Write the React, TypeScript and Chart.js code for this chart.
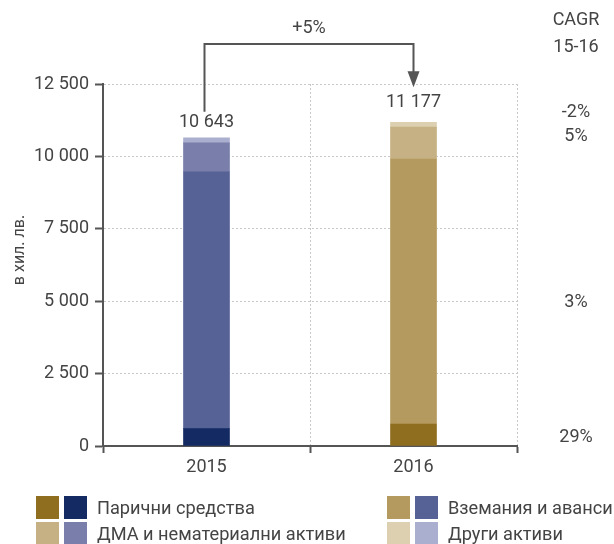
import React, { useEffect, useRef } from "react";
import { Chart, registerables } from "chart.js";
Chart.register(...registerables);

const categories = ["2015", "2016"];
const cash = [600, 760];
const receivables = [8880, 9150];
const fixedAssets = [990, 1100];
const otherAssets = [173, 167];
const totals = [10643, 11177];
const totalLabels = ["10 643", "11 177"];
const growthLabel = "+5%";
const cagrTitle = ["CAGR", "15-16"];
const cagrLabels = ["29%", "3%", "5%", "-2%"];
const seriesNames = [
  "Парични средства",
  "Вземания и аванси",
  "ДМА и нематериални активи",
  "Други активи",
];
const blueColors = ["#132a63", "#566295", "#7a7eab", "#abafcf"];
const goldColors = ["#8f6e20", "#b49a5e", "#c6b185", "#ddd0b1"];
const yTitle = "в хил. лв.";

const FONT = "Roboto, 'Noto Sans', sans-serif";
const TEXT = "#444";
const fmt = (v: number) => String(v).replace(/\B(?=(\d{3})+(?!\d))/g, " ");

const overlay = {
  id: "overlay",
  afterDraw(chart: any) {
    const { ctx, scales, chartArea } = chart;
    const xs = scales.x;
    const ys = scales.y;
    ctx.save();
    ctx.fillStyle = TEXT;
    ctx.font = `18px ${FONT}`;
    ctx.textAlign = "center";
    ctx.textBaseline = "middle";
    const gaps = [15, 20];
    const labelY: number[] = [];
    totals.forEach((t, i) => {
      const x = xs.getPixelForValue(i);
      const y = ys.getPixelForValue(t) - gaps[i];
      labelY.push(y);
      ctx.fillText(totalLabels[i], x, y);
    });
    // arrow
    const x0 = xs.getPixelForValue(0) - 2;
    const x1 = xs.getPixelForValue(1);
    const lineY = chartArea.top - 40;
    const tipY = labelY[1] - 15;
    ctx.strokeStyle = "#555";
    ctx.lineWidth = 2;
    ctx.beginPath();
    ctx.moveTo(x0, labelY[0] - 11);
    ctx.lineTo(x0, lineY);
    ctx.lineTo(x1, lineY);
    ctx.lineTo(x1, tipY - 14);
    ctx.stroke();
    ctx.fillStyle = "#555";
    ctx.beginPath();
    ctx.moveTo(x1, tipY);
    ctx.lineTo(x1 - 6, tipY - 16);
    ctx.lineTo(x1 + 6, tipY - 16);
    ctx.closePath();
    ctx.fill();
    ctx.fillStyle = TEXT;
    ctx.fillText(growthLabel, (x0 + x1) / 2, 28);
    // CAGR column
    const cx = 576;
    ctx.fillText(cagrTitle[0], cx, 20);
    ctx.fillText(cagrTitle[1], cx, 47);
    const series = [cash, receivables, fixedAssets, otherAssets];
    const nudges = [3, 11, -7, -12];
    let base = 0;
    series.forEach((s, k) => {
      const v = s[1];
      const mid = ys.getPixelForValue(base + v / 2);
      base += v;
      ctx.fillText(cagrLabels[k], cx, mid + nudges[k]);
    });
    // y title
    ctx.save();
    ctx.translate(20, (chartArea.top + chartArea.bottom) / 2 - 15);
    ctx.rotate(-Math.PI / 2);
    ctx.font = `16px ${FONT}`;
    ctx.fillText(yTitle, 0, 0);
    ctx.restore();
    ctx.restore();
  },
};

function ChartView() {
  const ref = useRef<HTMLCanvasElement>(null);
  useEffect(() => {
    if (!ref.current) return;
    const mk = (data: number[], k: number) => ({
      label: seriesNames[k],
      data,
      backgroundColor: [blueColors[k], goldColors[k]],
      borderWidth: 0,
      barThickness: 46,
    });
    const chart = new Chart(ref.current, {
      type: "bar",
      data: {
        labels: categories,
        datasets: [
          mk(cash, 0),
          mk(receivables, 1),
          mk(fixedAssets, 2),
          mk(otherAssets, 3),
        ],
      },
      options: {
        animation: false,
        responsive: true,
        maintainAspectRatio: false,
        layout: { padding: { top: 84, right: 97, left: 0, bottom: 0 } },
        plugins: { legend: { display: false }, tooltip: { enabled: false } },
        scales: {
          x: {
            stacked: true,
            afterFit: (s: any) => {
              s.height = 98;
            },
            grid: {
              offset: true,
              color: "#c8c8c8",
              lineWidth: 1,
              tickLength: 7,
              tickColor: "#555",
              tickWidth: 2,
            },
            border: { color: "#555", width: 2, dash: [2, 2] },
            ticks: { color: TEXT, font: { family: FONT, size: 18 }, padding: 4 },
          },
          y: {
            stacked: true,
            min: 0,
            max: 12500,
            afterFit: (s: any) => {
              s.width = 103;
            },
            grid: {
              color: "#c8c8c8",
              lineWidth: 1,
              tickLength: 8,
              tickColor: "#555",
              tickWidth: 2,
            },
            border: { color: "#555", width: 2, dash: [2, 2] },
            ticks: {
              stepSize: 2500,
              color: TEXT,
              font: { family: FONT, size: 18 },
              padding: 6,
              callback: (v: any) => fmt(Number(v)),
            },
          },
        },
      },
      plugins: [overlay],
    });
    return () => chart.destroy();
  }, []);
  return <canvas ref={ref} />;
}

function Legend() {
  const items = [0, 1, 2, 3];
  const cols = [36, 387];
  const rows = [496, 522];
  return (
    <>
      {items.map((k) => {
        const left = cols[k % 2];
        const top = rows[Math.floor(k / 2)];
        return (
          <div
            key={k}
            style={{
              position: "absolute",
              left,
              top,
              height: 23,
              display: "flex",
              alignItems: "center",
              fontFamily: FONT,
              fontSize: 18.2,
              color: TEXT,
              whiteSpace: "nowrap",
            }}
          >
            <span style={{ width: 23, height: 23, background: goldColors[k], display: "inline-block", flex: "none" }} />
            <span style={{ width: 23, height: 23, background: blueColors[k], display: "inline-block", marginLeft: 5, flex: "none" }} />
            <span style={{ marginLeft: 10 }}>{seriesNames[k]}</span>
          </div>
        );
      })}
    </>
  );
}

export default function App() {
  return (
    <div
      lang="bg"
      style={{ position: "fixed", left: 0, top: 0, width: 614, height: 544, overflow: "hidden", background: "#fff" }}
    >
      <div style={{ position: "absolute", left: 0, top: 0, width: 614, height: 544 }}>
        <ChartView />
      </div>
      <Legend />
    </div>
  );
}
